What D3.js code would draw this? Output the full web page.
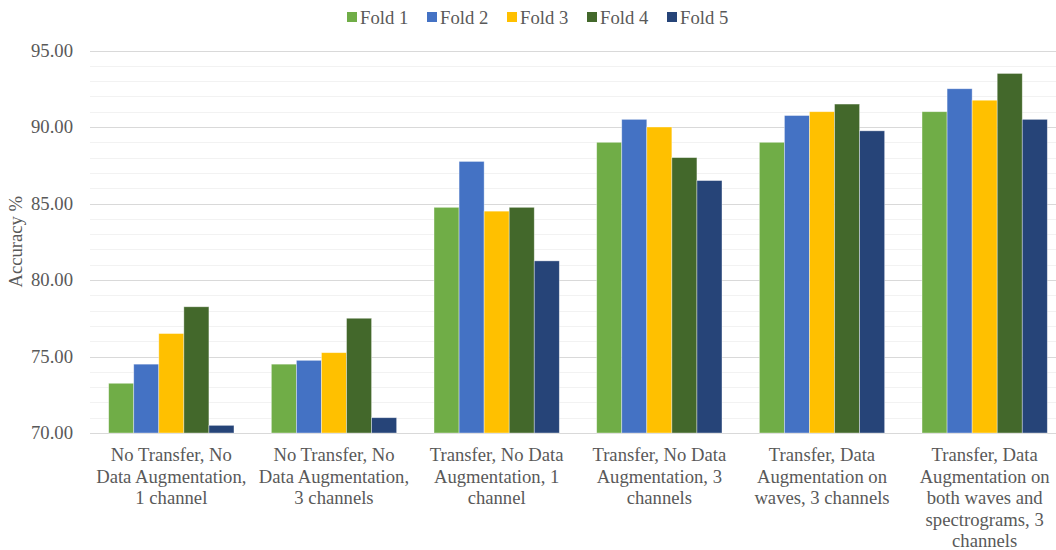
<!DOCTYPE html>
<html>
<head>
<meta charset="utf-8">
<script src="https://cdn.jsdelivr.net/npm/d3@7"></script>
<style>
  html, body { margin: 0; padding: 0; background: #fff; font-family: 'Liberation Serif', 'Times New Roman', serif; }
  svg { display: block; }
  svg text { font-family: 'Liberation Serif', 'Times New Roman', serif; }
</style>
</head>
<body>
<svg id="chart" width="1056" height="550" font-family="'Liberation Serif', serif"></svg>
<script>
// Accuracy per fold for each training configuration
const categories = [
  "No Transfer, No\nData Augmentation,\n1 channel",
  "No Transfer, No\nData Augmentation,\n3 channels",
  "Transfer, No Data\nAugmentation, 1\nchannel",
  "Transfer, No Data\nAugmentation, 3\nchannels",
  "Transfer, Data\nAugmentation on\nwaves, 3 channels",
  "Transfer, Data\nAugmentation on\nboth waves and\nspectrograms, 3\nchannels"
];
const seriesNames = ["Fold 1", "Fold 2", "Fold 3", "Fold 4", "Fold 5"];
const fold1 = [73.25, 74.50, 84.75, 89.00, 89.00, 91.00];
const fold2 = [74.50, 74.75, 87.75, 90.50, 90.75, 92.50];
const fold3 = [76.50, 75.25, 84.50, 90.00, 91.00, 91.75];
const fold4 = [78.25, 77.50, 84.75, 88.00, 91.50, 93.50];
const fold5 = [70.50, 71.00, 81.25, 86.50, 89.75, 90.50];
const yTicks = [70, 75, 80, 85, 90, 95];
const colors = ["#70AD47", "#4472C4", "#FFC000", "#43682B", "#264478"];

const series = [fold1, fold2, fold3, fold4, fold5];
const FONT = "'Liberation Serif', 'Times New Roman', serif";
const TEXT_COLOR = "#595959";

const svg = d3.select("#chart");
// The plot area runs slightly past the right edge of the canvas
const plot = { left: 90, right: 1066, top: 50.5, bottom: 433 };

const x0 = d3.scaleBand()
  .domain(d3.range(categories.length))
  .range([plot.left, plot.right])
  .paddingInner(0.2297)
  .paddingOuter(0.1148);
const x1 = d3.scaleBand()
  .domain(d3.range(seriesNames.length))
  .range([0, x0.bandwidth()]);
const y = d3.scaleLinear()
  .domain([70, 95])
  .range([plot.bottom, plot.top]);

// Minor gridlines every 1 unit
const minor = d3.range(71, 95, 1).filter(v => v % 5 !== 0);
svg.append("g").selectAll("line").data(minor).join("line")
  .attr("x1", plot.left).attr("x2", plot.right)
  .attr("y1", d => Math.round(y(d)) + 0.5).attr("y2", d => Math.round(y(d)) + 0.5)
  .attr("stroke", "#f2f2f2").attr("stroke-width", 1.2);

// Major gridlines
svg.append("g").selectAll("line").data(yTicks).join("line")
  .attr("x1", plot.left).attr("x2", plot.right)
  .attr("y1", d => Math.round(y(d)) + 0.5).attr("y2", d => Math.round(y(d)) + 0.5)
  .attr("stroke", "#d9d9d9").attr("stroke-width", 1.2);

// Y axis labels
const yAxis = d3.axisLeft(y).tickValues(yTicks).tickFormat(d3.format(".2f")).tickSize(0).tickPadding(17);
const gy = svg.append("g").attr("transform", `translate(${plot.left},0)`).call(yAxis)
  .attr("font-family", FONT).attr("font-size", null);
gy.select(".domain").remove();
gy.selectAll("text")
  .style("font-family", FONT)
  .attr("font-size", "18.67px").attr("fill", TEXT_COLOR);

// Bars
const groups = svg.append("g").selectAll("g").data(categories).join("g")
  .attr("transform", (d, i) => `translate(${x0(i)},0)`);
groups.selectAll("rect")
  .data((d, i) => series.map((s, k) => ({ k, v: s[i] })))
  .join("rect")
  .attr("x", d => x1(d.k))
  .attr("width", x1.bandwidth())
  .attr("y", d => y(d.v))
  .attr("height", d => y(70) - y(d.v))
  .attr("fill", d => colors[d.k])
  .attr("stroke", "#ffffff").attr("stroke-opacity", 0.5).attr("stroke-width", 0.75);

// Category labels
const xAxisG = svg.append("g");
categories.forEach((c, i) => {
  const cx = x0(i) + x0.bandwidth() / 2;
  const t = xAxisG.append("text")
    .attr("x", cx)
    .attr("y", y(70) + 28)
    .attr("text-anchor", "middle")
    .style("font-family", FONT)
    .attr("font-size", "18.67px").attr("fill", TEXT_COLOR);
  c.split("\n").forEach((line, j) => {
    t.append("tspan").attr("x", cx)
      .attr("dy", j === 0 ? 0 : 21.6).text(line);
  });
});

// Y axis title
svg.append("text")
  .attr("transform", `translate(22,${(y(70) + y(95)) / 2}) rotate(-90)`)
  .attr("text-anchor", "middle")
  .style("font-family", FONT)
  .attr("font-size", "18.67px").attr("fill", TEXT_COLOR)
  .text("Accuracy %");

// Legend
const legend = svg.append("g");
const legX = d3.scalePoint().domain(seriesNames).range([347, 667]);
seriesNames.forEach((n, k) => {
  const g = legend.append("g").attr("transform", `translate(${legX(n)},0)`);
  g.append("rect").attr("x", 0).attr("y", 12).attr("width", 10).attr("height", 10).attr("fill", colors[k]);
  g.append("text").attr("x", 13).attr("y", 23.5)
    .style("font-family", FONT)
    .attr("font-size", "18.67px").attr("fill", TEXT_COLOR).text(n);
});
</script>
</body>
</html>
